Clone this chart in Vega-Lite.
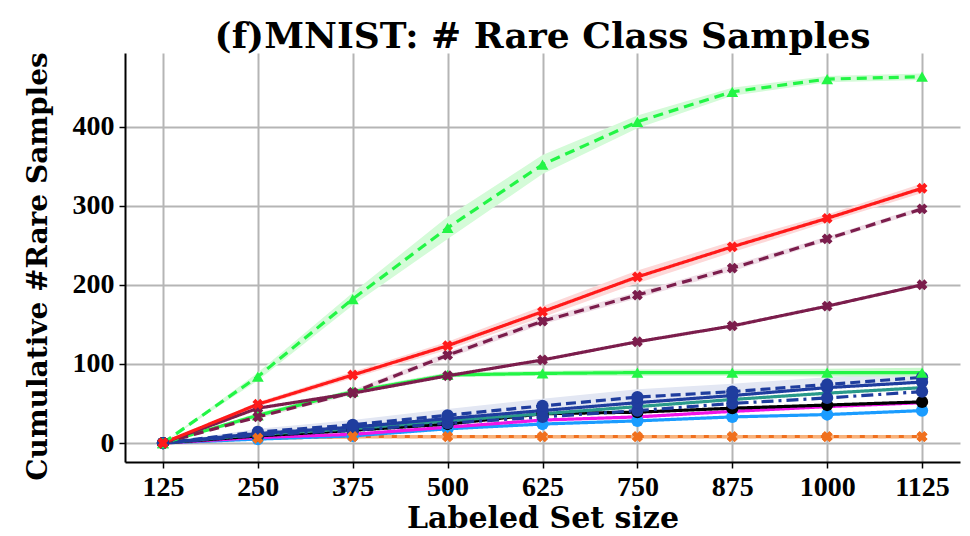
{
  "$schema": "https://vega.github.io/schema/vega-lite/v6.json",
  "width": 835,
  "height": 409,
  "autosize": {"type": "none"},
  "padding": {"left": 125, "top": 53, "right": 10, "bottom": 74},
  "background": "white",
  "title": {
    "text": "(f)MNIST: # Rare Class Samples",
    "font": "DejaVu Serif",
    "fontSize": 36,
    "fontWeight": "bold",
    "color": "black",
    "anchor": "middle",
    "offset": 3,
    "dy": 7
  },
  "config": {
    "view": {"stroke": null},
    "axis": {
      "grid": true,
      "gridColor": "#b5b5b5",
      "gridWidth": 2,
      "domainColor": "black",
      "domainWidth": 2,
      "tickColor": "black",
      "tickSize": 6,
      "tickWidth": 1.5,
      "labelFont": "Liberation Serif",
      "labelFontWeight": "bold",
      "labelFontSize": 28,
      "labelColor": "black",
      "titleFont": "DejaVu Serif",
      "titleFontWeight": "bold",
      "titleFontSize": 28,
      "titleColor": "black"
    }
  },
  "data": {
    "values": [
      {"s": "s01", "x": 125, "y": 0}, {"s": "s01", "x": 250, "y": 6}, {"s": "s01", "x": 375, "y": 8}, {"s": "s01", "x": 500, "y": 8}, {"s": "s01", "x": 625, "y": 8}, {"s": "s01", "x": 750, "y": 8}, {"s": "s01", "x": 875, "y": 8}, {"s": "s01", "x": 1000, "y": 8}, {"s": "s01", "x": 1125, "y": 8},
      {"s": "s02", "x": 125, "y": 0}, {"s": "s02", "x": 250, "y": 6}, {"s": "s02", "x": 375, "y": 8}, {"s": "s02", "x": 500, "y": 8}, {"s": "s02", "x": 625, "y": 8}, {"s": "s02", "x": 750, "y": 8}, {"s": "s02", "x": 875, "y": 8}, {"s": "s02", "x": 1000, "y": 8}, {"s": "s02", "x": 1125, "y": 8},
      {"s": "s03", "x": 125, "y": 0}, {"s": "s03", "x": 250, "y": 5}, {"s": "s03", "x": 375, "y": 9}, {"s": "s03", "x": 500, "y": 18}, {"s": "s03", "x": 625, "y": 24}, {"s": "s03", "x": 750, "y": 28}, {"s": "s03", "x": 875, "y": 33}, {"s": "s03", "x": 1000, "y": 36}, {"s": "s03", "x": 1125, "y": 41},
      {"s": "s04", "x": 125, "y": 0}, {"s": "s04", "x": 250, "y": 7}, {"s": "s04", "x": 375, "y": 11}, {"s": "s04", "x": 500, "y": 20}, {"s": "s04", "x": 625, "y": 29}, {"s": "s04", "x": 750, "y": 33}, {"s": "s04", "x": 875, "y": 40}, {"s": "s04", "x": 1000, "y": 46}, {"s": "s04", "x": 1125, "y": 51},
      {"s": "s05", "x": 125, "y": 0}, {"s": "s05", "x": 250, "y": 9}, {"s": "s05", "x": 375, "y": 16}, {"s": "s05", "x": 500, "y": 24}, {"s": "s05", "x": 625, "y": 37}, {"s": "s05", "x": 750, "y": 39}, {"s": "s05", "x": 875, "y": 44}, {"s": "s05", "x": 1000, "y": 48}, {"s": "s05", "x": 1125, "y": 52},
      {"s": "s06", "x": 125, "y": 0}, {"s": "s06", "x": 250, "y": 11}, {"s": "s06", "x": 375, "y": 18}, {"s": "s06", "x": 500, "y": 28}, {"s": "s06", "x": 625, "y": 37}, {"s": "s06", "x": 750, "y": 46}, {"s": "s06", "x": 875, "y": 55}, {"s": "s06", "x": 1000, "y": 63}, {"s": "s06", "x": 1125, "y": 70},
      {"s": "s07", "x": 125, "y": 0}, {"s": "s07", "x": 250, "y": 10}, {"s": "s07", "x": 375, "y": 16}, {"s": "s07", "x": 500, "y": 25}, {"s": "s07", "x": 625, "y": 33}, {"s": "s07", "x": 750, "y": 41}, {"s": "s07", "x": 875, "y": 50}, {"s": "s07", "x": 1000, "y": 57}, {"s": "s07", "x": 1125, "y": 65},
      {"s": "s08", "x": 125, "y": 0}, {"s": "s08", "x": 250, "y": 12}, {"s": "s08", "x": 375, "y": 20}, {"s": "s08", "x": 500, "y": 31}, {"s": "s08", "x": 625, "y": 41}, {"s": "s08", "x": 750, "y": 51}, {"s": "s08", "x": 875, "y": 60}, {"s": "s08", "x": 1000, "y": 70}, {"s": "s08", "x": 1125, "y": 77},
      {"s": "s09", "x": 125, "y": 0, "lo": 0, "hi": 0}, {"s": "s09", "x": 250, "y": 14, "lo": 11, "hi": 18}, {"s": "s09", "x": 375, "y": 23, "lo": 20, "hi": 29}, {"s": "s09", "x": 500, "y": 35, "lo": 31, "hi": 43}, {"s": "s09", "x": 625, "y": 47, "lo": 42, "hi": 56}, {"s": "s09", "x": 750, "y": 58, "lo": 52, "hi": 68}, {"s": "s09", "x": 875, "y": 65, "lo": 60, "hi": 75}, {"s": "s09", "x": 1000, "y": 74, "lo": 69, "hi": 83}, {"s": "s09", "x": 1125, "y": 83, "lo": 77, "hi": 90},
      {"s": "s10", "x": 125, "y": 0, "lo": 0, "hi": 0}, {"s": "s10", "x": 250, "y": 35, "lo": 32, "hi": 38}, {"s": "s10", "x": 375, "y": 65, "lo": 62, "hi": 68}, {"s": "s10", "x": 500, "y": 86, "lo": 83, "hi": 89}, {"s": "s10", "x": 625, "y": 88, "lo": 85, "hi": 91}, {"s": "s10", "x": 750, "y": 89, "lo": 85, "hi": 93}, {"s": "s10", "x": 875, "y": 89, "lo": 85, "hi": 93}, {"s": "s10", "x": 1000, "y": 89, "lo": 84, "hi": 94}, {"s": "s10", "x": 1125, "y": 89, "lo": 84, "hi": 95},
      {"s": "s11", "x": 125, "y": 0}, {"s": "s11", "x": 250, "y": 44}, {"s": "s11", "x": 375, "y": 63}, {"s": "s11", "x": 500, "y": 85}, {"s": "s11", "x": 625, "y": 105}, {"s": "s11", "x": 750, "y": 128}, {"s": "s11", "x": 875, "y": 148}, {"s": "s11", "x": 1000, "y": 173}, {"s": "s11", "x": 1125, "y": 200},
      {"s": "s12", "x": 125, "y": 0, "lo": 0, "hi": 0}, {"s": "s12", "x": 250, "y": 33, "lo": 31, "hi": 35}, {"s": "s12", "x": 375, "y": 64, "lo": 61, "hi": 67}, {"s": "s12", "x": 500, "y": 111, "lo": 107, "hi": 115}, {"s": "s12", "x": 625, "y": 154, "lo": 150, "hi": 158}, {"s": "s12", "x": 750, "y": 187, "lo": 183, "hi": 191}, {"s": "s12", "x": 875, "y": 221, "lo": 217, "hi": 225}, {"s": "s12", "x": 1000, "y": 258, "lo": 255, "hi": 261}, {"s": "s12", "x": 1125, "y": 296, "lo": 293, "hi": 299},
      {"s": "s13", "x": 125, "y": 0, "lo": 0, "hi": 0}, {"s": "s13", "x": 250, "y": 49, "lo": 46, "hi": 52}, {"s": "s13", "x": 375, "y": 86, "lo": 82, "hi": 90}, {"s": "s13", "x": 500, "y": 123, "lo": 118, "hi": 128}, {"s": "s13", "x": 625, "y": 166, "lo": 159, "hi": 173}, {"s": "s13", "x": 750, "y": 210, "lo": 202, "hi": 218}, {"s": "s13", "x": 875, "y": 248, "lo": 241, "hi": 255}, {"s": "s13", "x": 1000, "y": 284, "lo": 279, "hi": 289}, {"s": "s13", "x": 1125, "y": 322, "lo": 316, "hi": 328},
      {"s": "s14", "x": 125, "y": 0, "lo": 0, "hi": 0}, {"s": "s14", "x": 250, "y": 84, "lo": 79, "hi": 89}, {"s": "s14", "x": 375, "y": 182, "lo": 174, "hi": 190}, {"s": "s14", "x": 500, "y": 272, "lo": 258, "hi": 286}, {"s": "s14", "x": 625, "y": 352, "lo": 340, "hi": 364}, {"s": "s14", "x": 750, "y": 406, "lo": 398, "hi": 414}, {"s": "s14", "x": 875, "y": 444, "lo": 439, "hi": 449}, {"s": "s14", "x": 1000, "y": 460, "lo": 456, "hi": 464}, {"s": "s14", "x": 1125, "y": 463, "lo": 459, "hi": 467}
    ]
  },
  "encoding": {
    "x": {
      "field": "x",
      "type": "quantitative",
      "scale": {"domain": [75, 1175], "nice": false, "zero": false},
      "axis": {
        "values": [125, 250, 375, 500, 625, 750, 875, 1000, 1125],
        "format": "d",
        "title": "Labeled Set size",
        "titleFontSize": 30,
        "labelPadding": 5,
        "titlePadding": 2
      }
    }
  },
  "layer": [
    {
      "transform": [{"filter": "isValid(datum.lo)"}],
      "mark": {"type": "area", "opacity": 1},
      "encoding": {
        "y": {"field": "lo", "type": "quantitative"},
        "y2": {"field": "hi"},
        "fill": {
          "field": "s",
          "type": "nominal",
          "legend": null,
          "scale": {
            "domain": ["s09", "s10", "s12", "s13", "s14"],
            "range": ["#e3e7f3", "#c8f8cc", "#efdde6", "#fdd8d8", "#d4fbd8"]
          }
        }
      }
    },
    {
      "mark": {"type": "line", "strokeWidth": 3.2},
      "encoding": {
        "y": {
          "field": "y",
          "type": "quantitative",
          "scale": {"domain": [-24, 493], "nice": false, "zero": false},
          "axis": {
            "values": [0, 100, 200, 300, 400],
            "format": "d",
            "title": "Cumulative #Rare Samples",
            "labelPadding": 5,
            "titlePadding": 20,
            "titleY": 213
          }
        },
        "stroke": {
          "field": "s",
          "type": "nominal",
          "legend": null,
          "scale": {
            "domain": ["s01", "s02", "s03", "s04", "s05", "s06", "s07", "s08", "s09", "s10", "s11", "s12", "s13", "s14"],
            "range": ["#f0701e", "#f8b27c", "#1a9cff", "#f014e6", "#000000", "#2a9a8a", "#1f3d9e", "#1f3d9e", "#1f3d9e", "#22f545", "#7b1d4c", "#7b1d4c", "#ff1a1a", "#22f545"]
          }
        },
        "strokeDash": {
          "field": "s",
          "type": "nominal",
          "legend": null,
          "scale": {
            "domain": ["s01", "s02", "s03", "s04", "s05", "s06", "s07", "s08", "s09", "s10", "s11", "s12", "s13", "s14"],
            "range": [[1, 0], [8, 5], [1, 0], [1, 0], [1, 0], [1, 0], [12, 5, 3, 5], [1, 0], [10, 5], [1, 0], [1, 0], [10, 6], [1, 0], [10, 6]]
          }
        }
      }
    },
    {
      "transform": [{"filter": {"field": "s", "oneOf": ["s03", "s05", "s07", "s08", "s09"]}}],
      "mark": {"type": "point", "shape": "circle", "filled": true, "size": 150, "opacity": 1},
      "encoding": {
        "y": {"field": "y", "type": "quantitative"},
        "color": {
          "field": "s",
          "type": "nominal",
          "legend": null,
          "scale": {
            "domain": ["s01", "s02", "s03", "s05", "s07", "s08", "s09", "s10", "s11", "s12", "s13", "s14"],
            "range": ["#f0701e", "#f0701e", "#1a9cff", "#000000", "#1f3d9e", "#1f3d9e", "#1f3d9e", "#22f545", "#7b1d4c", "#7b1d4c", "#ff1a1a", "#22f545"]
          }
        }
      }
    },
    {
      "transform": [{"filter": {"field": "s", "oneOf": ["s10", "s14"]}}],
      "mark": {"type": "point", "shape": "triangle-up", "filled": true, "size": 140, "opacity": 1},
      "encoding": {
        "y": {"field": "y", "type": "quantitative"},
        "color": {"field": "s", "type": "nominal", "legend": null}
      }
    },
    {
      "transform": [{"filter": {"field": "s", "oneOf": ["s01", "s02", "s11", "s12", "s13"]}}],
      "mark": {"type": "point", "shape": "cross", "angle": 45, "filled": true, "size": 120, "opacity": 1},
      "encoding": {
        "y": {"field": "y", "type": "quantitative"},
        "color": {"field": "s", "type": "nominal", "legend": null}
      }
    }
  ]
}
